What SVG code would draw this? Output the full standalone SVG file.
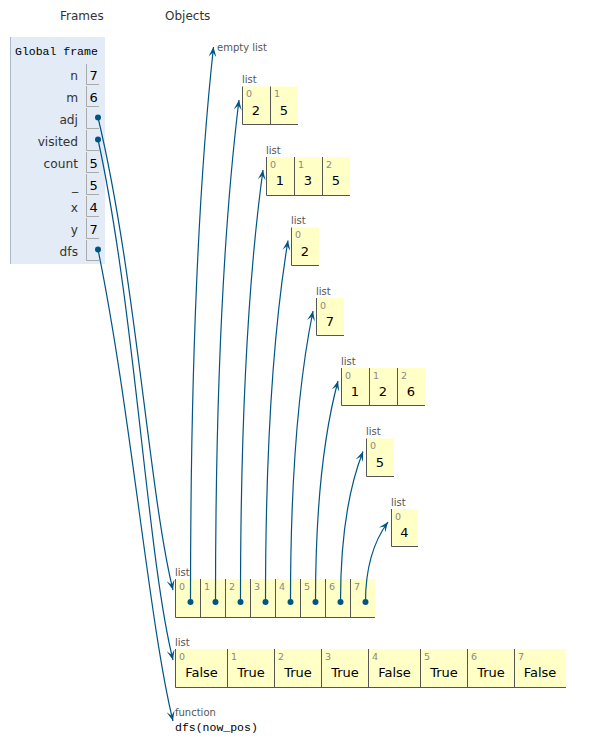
<svg xmlns="http://www.w3.org/2000/svg" width="600" height="751" viewBox="0 0 600 751">
<style>
.hdr{font-family:"DejaVu Sans",Verdana,sans-serif;font-size:12px;fill:#333}
.mono{font-family:"Liberation Mono","DejaVu Sans Mono",monospace;font-size:11.5px;fill:#000}
.vn{font-family:"DejaVu Sans",Verdana,sans-serif;font-size:12.2px;fill:#333;text-anchor:end}
.vv{font-family:"DejaVu Sans",Verdana,sans-serif;font-size:13px;fill:#000}
.vc{fill:none;stroke:#aaa;stroke-width:1}
.tl{font-family:"DejaVu Sans",Verdana,sans-serif;font-size:10px;fill:#555}
.ix{font-family:"DejaVu Sans",Verdana,sans-serif;font-size:9.5px;fill:#888}
.val{font-family:"DejaVu Sans",Verdana,sans-serif;font-size:13px;fill:#000;text-anchor:middle}
.cell{fill:#ffffc6;stroke:none}
.bd{stroke:#555;stroke-width:1;fill:none}
.conn{fill:none;stroke:#005583;stroke-width:1.2;marker-end:url(#arr)}
.dot{fill:#005583}
</style>
<defs>
<marker id="arr" markerWidth="10" markerHeight="8" refX="10" refY="4" orient="auto" markerUnits="userSpaceOnUse">
<path d="M0,0 L10,4 L0,8 L4.5,4 z" fill="#005583"/>
</marker>
</defs>
<text class="hdr" x="60" y="20">Frames</text>
<text class="hdr" x="165" y="20">Objects</text>
<g id="global-frame">
<rect x="10" y="37" width="95" height="227" fill="#e2ebf6"/>
<line x1="10.5" y1="37" x2="10.5" y2="264" stroke="#a9b8cc" stroke-width="1"/>
<text class="mono" x="15" y="55">Global frame</text>
<text class="vn" x="78" y="80">n</text><path class="vc" d="M86.5,64 V84.5 H99"/><text class="vv" x="89.5" y="80">7</text>
<text class="vn" x="78" y="102">m</text><path class="vc" d="M86.5,86 V106.5 H99"/><text class="vv" x="89.5" y="102">6</text>
<text class="vn" x="78" y="124">adj</text><path class="vc" d="M86.5,108 V128.5 H99"/>
<text class="vn" x="78" y="146">visited</text><path class="vc" d="M86.5,130 V150.5 H99"/>
<text class="vn" x="78" y="168">count</text><path class="vc" d="M86.5,152 V172.5 H99"/><text class="vv" x="89.5" y="168">5</text>
<text class="vn" x="78" y="190">_</text><path class="vc" d="M86.5,174 V194.5 H99"/><text class="vv" x="89.5" y="190">5</text>
<text class="vn" x="78" y="212">x</text><path class="vc" d="M86.5,196 V216.5 H99"/><text class="vv" x="89.5" y="212">4</text>
<text class="vn" x="78" y="234">y</text><path class="vc" d="M86.5,218 V238.5 H99"/><text class="vv" x="89.5" y="234">7</text>
<text class="vn" x="78" y="256">dfs</text><path class="vc" d="M86.5,240 V260.5 H99"/>
</g>
<g id="empty-list">
<text class="tl" x="217" y="51">empty list</text>
</g>
<g id="list-2-5">
<text class="tl" x="242" y="83">list</text>
<rect class="cell" x="242" y="86.5" width="56" height="38"/>
<path class="bd" d="M242.5,86.5 V124.5 H298 M270.5,86.5 V124.5"/>
<text class="ix" x="246" y="97">0</text><text class="ix" x="274" y="97">1</text>
<text class="val" x="256" y="114.5">2</text><text class="val" x="284" y="114.5">5</text>
</g>
<g id="list-1-3-5">
<text class="tl" x="266" y="153.5">list</text>
<rect class="cell" x="266" y="157" width="84" height="38"/>
<path class="bd" d="M266.5,157 V195.5 H350 M294.5,157 V195.5 M322.5,157 V195.5"/>
<text class="ix" x="270" y="167.5">0</text><text class="ix" x="298" y="167.5">1</text><text class="ix" x="326" y="167.5">2</text>
<text class="val" x="280" y="185">1</text><text class="val" x="308" y="185">3</text><text class="val" x="336" y="185">5</text>
</g>
<g id="list-2">
<text class="tl" x="291" y="224">list</text>
<rect class="cell" x="291" y="227.5" width="28" height="38"/>
<path class="bd" d="M291.5,227.5 V265.5 H319"/>
<text class="ix" x="295" y="238">0</text>
<text class="val" x="305" y="255.5">2</text>
</g>
<g id="list-7">
<text class="tl" x="316" y="294.5">list</text>
<rect class="cell" x="316" y="298" width="28" height="38"/>
<path class="bd" d="M316.5,298 V335.5 H344"/>
<text class="ix" x="320" y="308.5">0</text>
<text class="val" x="330" y="326">7</text>
</g>
<g id="list-1-2-6">
<text class="tl" x="341" y="364.5">list</text>
<rect class="cell" x="341" y="368" width="84" height="38"/>
<path class="bd" d="M341.5,368 V405.5 H425 M369.5,368 V405.5 M397.5,368 V405.5"/>
<text class="ix" x="345" y="378.5">0</text><text class="ix" x="373" y="378.5">1</text><text class="ix" x="401" y="378.5">2</text>
<text class="val" x="355" y="396">1</text><text class="val" x="383" y="396">2</text><text class="val" x="411" y="396">6</text>
</g>
<g id="list-5">
<text class="tl" x="366" y="435">list</text>
<rect class="cell" x="366" y="438.5" width="28" height="38"/>
<path class="bd" d="M366.5,438.5 V476.5 H394"/>
<text class="ix" x="370" y="449">0</text>
<text class="val" x="380" y="466.5">5</text>
</g>
<g id="list-4">
<text class="tl" x="391" y="505.5">list</text>
<rect class="cell" x="391" y="509" width="27" height="38"/>
<path class="bd" d="M391.5,509 V546.5 H418"/>
<text class="ix" x="395" y="519.5">0</text>
<text class="val" x="404.5" y="537">4</text>
</g>
<g id="adj-list">
<text class="tl" x="175" y="575.5">list</text>
<rect class="cell" x="175" y="579" width="200" height="38"/>
<path class="bd" d="M175.5,579 V617.5 H375 M200.5,579 V617.5 M225.5,579 V617.5 M250.5,579 V617.5 M275.5,579 V617.5 M300.5,579 V617.5 M325.5,579 V617.5 M350.5,579 V617.5"/>
<text class="ix" x="179" y="589.5">0</text><text class="ix" x="204" y="589.5">1</text><text class="ix" x="229" y="589.5">2</text><text class="ix" x="254" y="589.5">3</text>
<text class="ix" x="279" y="589.5">4</text><text class="ix" x="304" y="589.5">5</text><text class="ix" x="329" y="589.5">6</text><text class="ix" x="354" y="589.5">7</text>
</g>
<g id="visited-list">
<text class="tl" x="175" y="645.5">list</text>
<rect class="cell" x="175" y="649" width="391" height="38"/>
<path class="bd" d="M175.5,649 V687.5 H566 M227.5,649 V687.5 M274.5,649 V687.5 M321.5,649 V687.5 M368.5,649 V687.5 M420.5,649 V687.5 M467.5,649 V687.5 M514.5,649 V687.5"/>
<text class="ix" x="179" y="659.5">0</text><text class="ix" x="231" y="659.5">1</text><text class="ix" x="278" y="659.5">2</text><text class="ix" x="325" y="659.5">3</text>
<text class="ix" x="372" y="659.5">4</text><text class="ix" x="424" y="659.5">5</text><text class="ix" x="471" y="659.5">6</text><text class="ix" x="518" y="659.5">7</text>
<text class="val" x="201.5" y="677">False</text><text class="val" x="251" y="677">True</text><text class="val" x="298" y="677">True</text><text class="val" x="345" y="677">True</text>
<text class="val" x="394.5" y="677">False</text><text class="val" x="444" y="677">True</text><text class="val" x="491" y="677">True</text><text class="val" x="540" y="677">False</text>
</g>
<g id="function-dfs">
<text class="tl" x="175" y="716">function</text>
<text class="mono" x="175" y="731">dfs(now_pos)</text>
</g>
<g id="connectors">
<path class="conn" d="M98,117.5 C135.5,273.4 149.4,495.5 173,590"/>
<path class="conn" d="M98,139.5 C135.5,311.3 147,556 173,660"/>
<path class="conn" d="M98,249.5 C130,404.8 149.5,626 173,721"/>
<path class="conn" d="M190.5,602 Q190.5,258 213.5,47"/>
<path class="conn" d="M215.5,602 Q215.5,291 239,100"/>
<path class="conn" d="M240.5,602 Q240.5,334 263,170"/>
<path class="conn" d="M265.5,602 Q265.5,377 288,240.5"/>
<path class="conn" d="M290.5,602 Q290.5,421.6 313,311"/>
<path class="conn" d="M315.5,602 Q315.5,465 338,381"/>
<path class="conn" d="M340.5,602 Q340.5,508.7 363,451.5"/>
<path class="conn" d="M365.5,602 Q365.5,552.4 388,522"/>
<circle class="dot" cx="98" cy="117.5" r="3"/>
<circle class="dot" cx="98" cy="139.5" r="3"/>
<circle class="dot" cx="98" cy="249.5" r="3"/>
<circle class="dot" cx="190.5" cy="602" r="3"/>
<circle class="dot" cx="215.5" cy="602" r="3"/>
<circle class="dot" cx="240.5" cy="602" r="3"/>
<circle class="dot" cx="265.5" cy="602" r="3"/>
<circle class="dot" cx="290.5" cy="602" r="3"/>
<circle class="dot" cx="315.5" cy="602" r="3"/>
<circle class="dot" cx="340.5" cy="602" r="3"/>
<circle class="dot" cx="365.5" cy="602" r="3"/>
</g>
</svg>
